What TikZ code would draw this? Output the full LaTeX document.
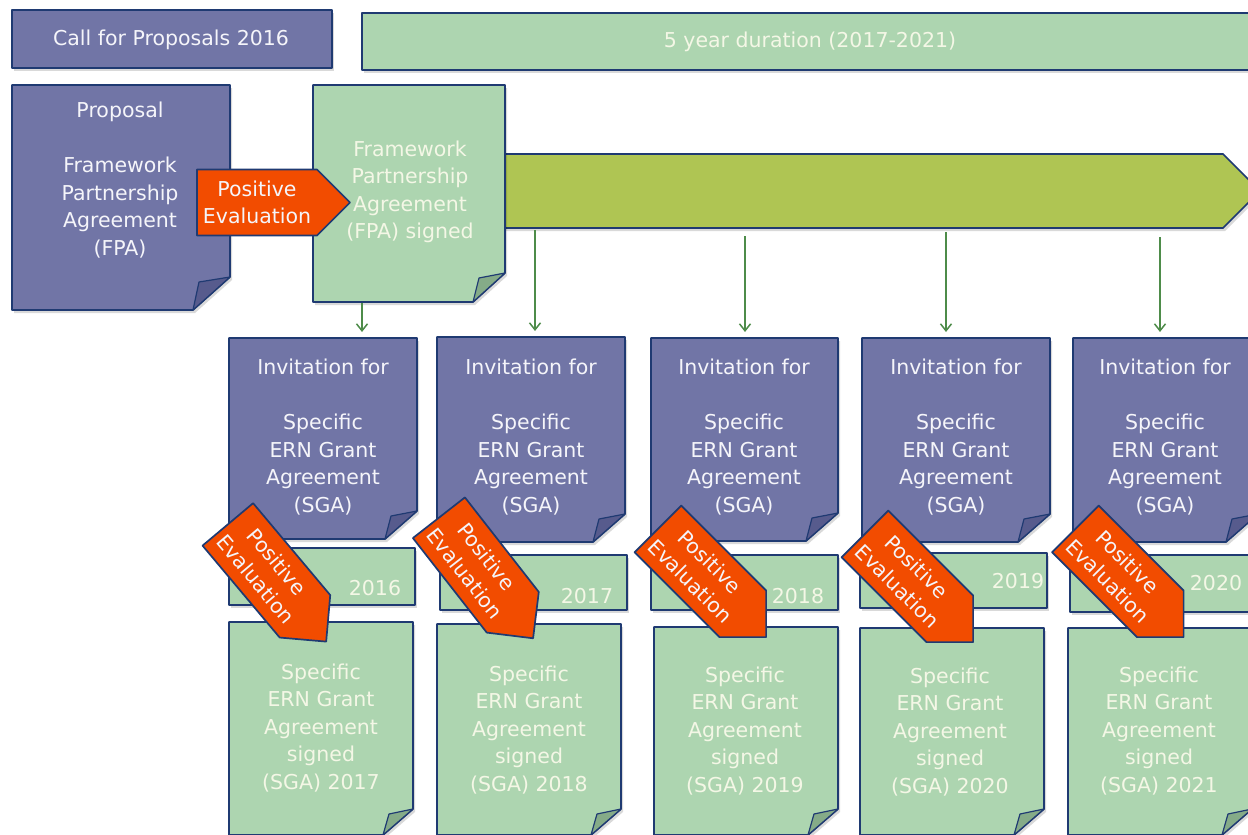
\documentclass[tikz,border=0pt]{standalone}
\usepackage{fontspec}
\setmainfont{DejaVu Sans}
\usetikzlibrary{arrows.meta,calc}
\definecolor{purp}{HTML}{7175A6}
\definecolor{purpfold}{HTML}{575B8D}
\definecolor{lgreen}{HTML}{ADD5B0}
\definecolor{gfold}{HTML}{85AB88}
\definecolor{barcol}{HTML}{AFC553}
\definecolor{orng}{HTML}{F24C00}
\definecolor{bord}{HTML}{1F3A72}
\definecolor{agreen}{HTML}{4E8C4A}
\definecolor{wtext}{HTML}{F5F5FA}
\definecolor{gtext}{HTML}{F4F7E6}
% document with folded corner: name, x1, y1, x2, y2, fill, fold fill, fold x, fold y
\newcommand\mydoc[9]{%
  \node[inner sep=0pt,outer sep=0pt,minimum width={(#4-#2)*1pt},minimum height={(#5-#3)*1pt}] (#1) at ({(#2+#4)/2},{(#3+#5)/2}) {};
  \filldraw[fill=#6,boxline,shadowed] (#1.north west) -- (#1.north east) -- ($(#1.south east)+(0,-#9)$) -- ($(#1.south east)+(-#8,0)$) -- (#1.south west) -- cycle;
  \filldraw[fill=#7,boxline,line width=1.2pt] ($(#1.south east)+(0,-#9)$) -- ($(#1.south east)+({-#8+6},{-#9+5})$) -- ($(#1.south east)+(-#8,0)$) -- cycle;
}
% positive evaluation arrow: name, centre x, centre y, angle
\newcommand\pearrow[4]{%
  \begin{scope}[shift={(#2,#3)},rotate=#4]
    \filldraw[fill=orng,boxline] (-76.5,-33) -- (43.5,-33) -- (76.5,0) -- (43.5,33) -- (-76.5,33) -- cycle;
    \node[lbl,rotate=#4] (#1) at (-16.5,0) {Positive\\Evaluation};
  \end{scope}}
\begin{document}
\begin{tikzpicture}[x=1pt,y=-1pt,
  lbl/.style={font=\fontsize{20.5}{27.5}\selectfont,align=center,inner sep=0pt,text=wtext},
  glbl/.style={lbl,text=gtext},
  boxline/.style={draw=bord,line width=1.7pt,line join=round},
  shadowed/.style={preaction={fill=black,opacity=0.15,transform canvas={shift={(2pt,-3pt)}}}},
  garrow/.style={draw=agreen,line width=1.5pt,shorten >=6pt,-{Straight Barb[length=7pt,width=11pt,line width=1.5pt]}},
]
\clip (0,0) rectangle (1248,835);

% top bars
\node[boxline,shadowed,fill=lgreen,minimum width=898pt,minimum height=57pt,inner sep=0pt] (dur) at (811,41.5) {};
\node[glbl] (durt) at (810,42) {5 year duration (2017-2021)};
\node[boxline,shadowed,fill=purp,minimum width=320pt,minimum height=58pt,inner sep=0pt] (call) at (172,39) {};
\node[lbl] (callt) at (171,40) {Call for Proposals 2016};

% long green arrow
\filldraw[fill=barcol,boxline,shadowed] (480,154) -- (1223,154) -- (1260,191) -- (1223,228) -- (480,228) -- cycle;
\coordinate (d1) at (535,230);
\coordinate (d2) at (745,236);
\coordinate (d3) at (946,232);
\coordinate (d4) at (1160,237);

% proposal and FPA
\mydoc{prop}{12}{85}{230}{310}{purp}{purpfold}{37}{33}
\node[lbl] (propt) at (120,180) {Proposal\\[27.5pt]Framework\\Partnership\\Agreement\\(FPA)};
\mydoc{fpa}{313}{85}{505}{302}{lgreen}{gfold}{32}{29}
\node[glbl] (fpat) at (410,192) {Framework\\Partnership\\Agreement\\(FPA) signed};
\pearrow{pe0}{273.5}{202.5}{0}
\coordinate (d0) at (362,303);

% invitations
\mydoc{inv1}{229}{338}{417}{539}{purp}{purpfold}{32}{28}
\mydoc{inv2}{437}{337}{625}{542}{purp}{purpfold}{32}{28}
\mydoc{inv3}{651}{338}{838}{541}{purp}{purpfold}{32}{28}
\mydoc{inv4}{862}{338}{1050}{542}{purp}{purpfold}{32}{28}
\mydoc{inv5}{1073}{338}{1258}{542}{purp}{purpfold}{32}{28}
\foreach \n/\x in {1/323,2/531,3/744,4/956,5/1165}{
  \node[lbl] (inv\n t) at (\x,437) {Invitation for\\[27.5pt]Specific\\ERN Grant\\Agreement\\(SGA)};
}

% vertical arrows
\draw[garrow] (d0) -- (d0 |- inv1.north);
\draw[garrow] (d1) -- (d1 |- inv2.north);
\draw[garrow] (d2) -- (d2 |- inv3.north);
\draw[garrow] (d3) -- (d3 |- inv4.north);
\draw[garrow] (d4) -- (d4 |- inv5.north);

% year boxes
\node[boxline,shadowed,fill=lgreen,minimum width=186pt,minimum height=57pt,inner sep=0pt] (yr1) at (322,576.5) {};
\node[boxline,shadowed,fill=lgreen,minimum width=187pt,minimum height=55pt,inner sep=0pt] (yr2) at (533.5,582.5) {};
\node[boxline,shadowed,fill=lgreen,minimum width=187pt,minimum height=55pt,inner sep=0pt] (yr3) at (744.5,582.5) {};
\node[boxline,shadowed,fill=lgreen,minimum width=187pt,minimum height=55pt,inner sep=0pt] (yr4) at (953.5,580.5) {};
\node[boxline,shadowed,fill=lgreen,minimum width=190pt,minimum height=57pt,inner sep=0pt] (yr5) at (1165,583.5) {};
\node[glbl] (yr1t) at (375,588) {2016};
\node[glbl] (yr2t) at (587,596) {2017};
\node[glbl] (yr3t) at (798,596) {2018};
\node[glbl] (yr4t) at (1018,581) {2019};
\node[glbl] (yr5t) at (1216,583) {2020};

% signed agreements
\mydoc{sg1}{229}{622}{413}{835}{lgreen}{gfold}{30}{26}
\mydoc{sg2}{437}{624}{621}{835}{lgreen}{gfold}{30}{26}
\mydoc{sg3}{654}{627}{838}{835}{lgreen}{gfold}{30}{26}
\mydoc{sg4}{860}{628}{1044}{835}{lgreen}{gfold}{30}{26}
\mydoc{sg5}{1068}{628}{1252}{835}{lgreen}{gfold}{30}{26}
\node[glbl] (sg1t) at (321,728) {Specific\\ERN Grant\\Agreement\\signed\\(SGA) 2017};
\node[glbl] (sg2t) at (529,730) {Specific\\ERN Grant\\Agreement\\signed\\(SGA) 2018};
\node[glbl] (sg3t) at (745,731) {Specific\\ERN Grant\\Agreement\\signed\\(SGA) 2019};
\node[glbl] (sg4t) at (950,732) {Specific\\ERN Grant\\Agreement\\signed\\(SGA) 2020};
\node[glbl] (sg5t) at (1159,731) {Specific\\ERN Grant\\Agreement\\signed\\(SGA) 2021};

% rotated evaluation arrows
\pearrow{pe1}{277}{583}{-50}
\pearrow{pe2}{486}{578}{-52}
\pearrow{pe3}{712}{583}{-45}
\pearrow{pe4}{919}{588}{-45}
\pearrow{pe5}{1129.5}{583}{-45}
\end{tikzpicture}
\end{document}
